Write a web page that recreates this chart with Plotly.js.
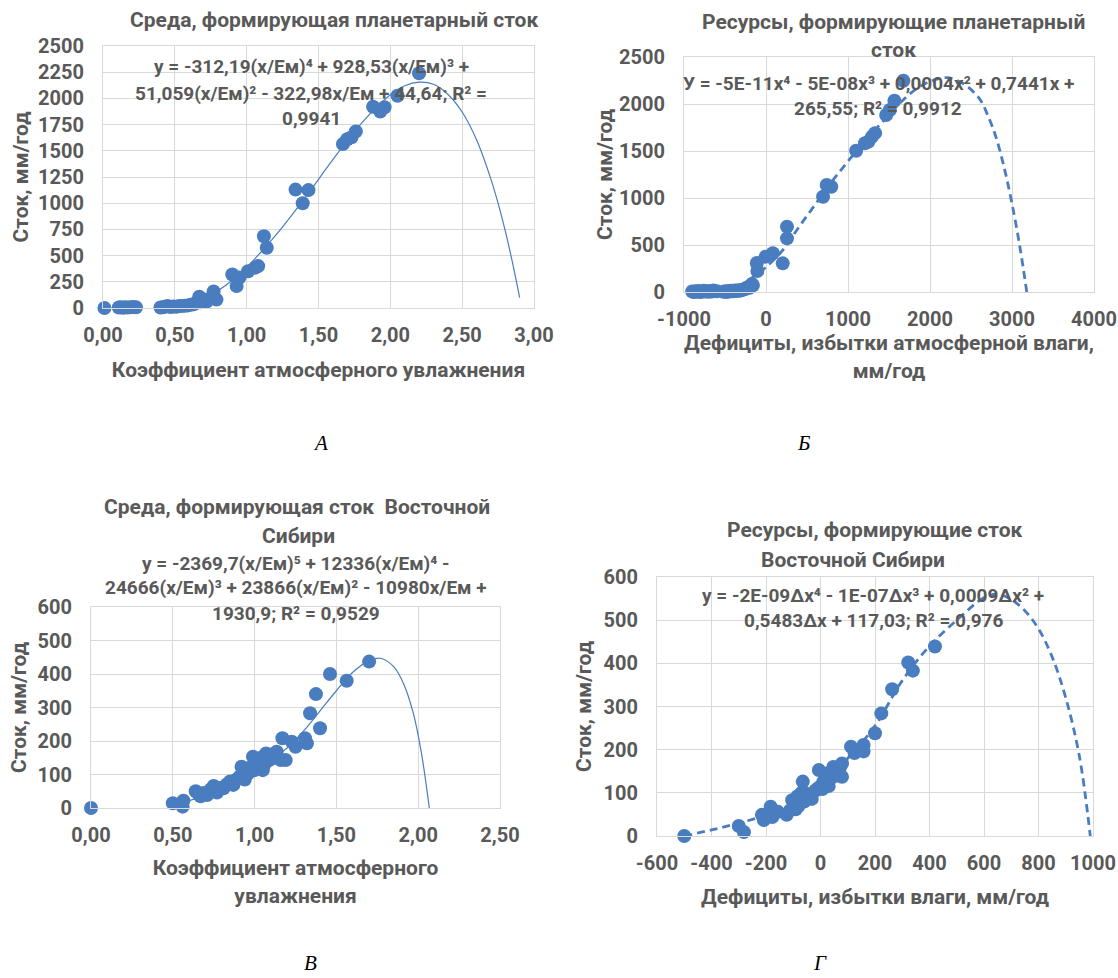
<!DOCTYPE html>
<html><head><meta charset="utf-8">
<script src="https://cdn.plot.ly/plotly-3.0.1.min.js"></script>
<style>html,body{margin:0;padding:0;background:#fff}</style>
</head><body><div id="chart" style="width:1118px;height:978px"></div>
<script>
// ---- Panel A: Среда, формирующая планетарный сток ----
const A_x = [0.01,0.11,0.12,0.14,0.15,0.17,0.19,0.21,0.23,0.40,0.42,0.43,0.45,0.47,0.49,0.51,0.53,0.55,0.57,0.59,0.61,0.63,0.65,0.67,0.68,0.70,0.72,0.74,0.76,0.77,0.79,0.90,0.93,0.95,1.01,1.06,1.08,1.12,1.14,1.34,1.39,1.43,1.67,1.70,1.73,1.76,1.88,1.93,1.96,2.05,2.20];
const A_y = [0,5,8,3,6,4,7,10,6,5,8,12,20,10,15,12,18,20,22,25,30,35,50,108,55,80,60,85,95,158,80,320,210,290,350,385,400,685,575,1130,1000,1125,1565,1610,1630,1685,1920,1875,1915,2025,2240];
const A_trendX = [0.5,0.6,0.7,0.8,0.9,1.0,1.2,1.4,1.6,1.8,2.0,2.1,2.2,2.3,2.4,2.5,2.6,2.7,2.75,2.8,2.85,2.9];
const A_trendY = [0,30,85,165,265,390,690,1040,1415,1765,2035,2120,2155,2135,2040,1870,1605,1230,1000,735,435,100];
const A_xticks = [0,0.5,1,1.5,2,2.5,3];
const A_xlabels = ['0,00','0,50','1,00','1,50','2,00','2,50','3,00'];
const A_yticks = [0,250,500,750,1000,1250,1500,1750,2000,2250,2500];

// ---- Panel Б: Ресурсы, формирующие планетарный сток ----
const B_x = [-900,-880,-860,-840,-820,-800,-780,-760,-740,-720,-700,-680,-660,-640,-600,-520,-500,-480,-460,-440,-420,-400,-380,-360,-340,-320,-300,-280,-260,-240,-220,-200,-190,-180,-170,-160,-112,-105,-4,83,204,256,256,696,740,796,1099,1207,1250,1293,1330,1466,1510,1566,1675];
const B_y = [5,0,8,3,10,0,6,12,4,9,2,10,5,15,8,3,8,0,10,5,12,8,15,10,18,12,20,25,30,40,50,45,60,75,85,70,308,224,376,412,305,695,571,1014,1138,1120,1503,1582,1600,1653,1690,1883,1936,2035,2248];
const B_trendX = [-490,-400,-300,-200,-100,0,200,400,600,800,1000,1200,1400,1600,1800,2000,2200,2400,2600,2700,2800,2900,3000,3100,3180];
const B_trendY = [0,35,80,135,195,265,440,690,930,1170,1390,1600,1790,1980,2140,2240,2280,2220,2060,1890,1660,1340,940,460,0];
const B_xticks = [-1000,0,1000,2000,3000,4000];
const B_xlabels = ['-1000','0','1000','2000','3000','4000'];
const B_yticks = [0,500,1000,1500,2000,2500];

// ---- Panel В: Среда, формирующая сток Восточной Сибири ----
const V_x = [0,0.50,0.56,0.565,0.64,0.66,0.67,0.69,0.71,0.73,0.75,0.77,0.79,0.81,0.83,0.85,0.87,0.89,0.91,0.92,0.93,0.94,0.96,0.97,0.99,1.00,1.01,1.02,1.03,1.04,1.05,1.06,1.07,1.08,1.09,1.10,1.12,1.135,1.16,1.17,1.19,1.227,1.25,1.308,1.32,1.339,1.375,1.40,1.461,1.563,1.70];
const V_y = [0,14,4,22,50,40,35,45,39,55,66,46,60,59,70,79,69,85,94,123,100,85,103,120,153,113,140,125,133,150,113,130,163,155,143,160,150,168,143,208,143,198,183,208,193,283,340,238,400,380,437];
const V_trendX = [0.5,0.6,0.7,0.8,0.9,1.0,1.1,1.2,1.3,1.4,1.5,1.6,1.7,1.77,1.85,1.91,1.97,2.02,2.068];
const V_trendY = [18,22,42,68,92,115,142,180,230,290,350,405,440,447,422,372,283,163,0];
const V_xticks = [0,0.5,1,1.5,2,2.5];
const V_xlabels = ['0,00','0,50','1,00','1,50','2,00','2,50'];
const V_yticks = [0,100,200,300,400,500,600];

// ---- Panel Г: Ресурсы, формирующие сток Восточной Сибири ----
const G_x = [-500,-300,-281,-215,-208,-183,-177,-156,-124,-110,-104,-91,-84,-80,-70,-65,-60,-52,-45,-40,-32,-20,-10,-6,0,7,10,20,21,30,40,47,50,60,70,79,79,112,125,158,158,200,223,263,322,339,420];
const G_y = [0,23,9,49,37,68,44,56,49,60,83,62,92,70,100,126,80,98,90,95,86,105,110,153,115,109,125,130,145,116,135,160,150,140,155,168,137,207,192,211,196,238,284,340,402,383,439];
const G_trendX = [-500,-400,-300,-200,-100,0,100,200,300,400,500,600,650,700,750,800,850,900,950,990];
const G_trendY = [0,14,30,48,75,117,180,255,360,440,500,552,560,548,522,480,415,320,185,0];
const G_xticks = [-600,-400,-200,0,200,400,600,800,1000];
const G_xlabels = ['-600','-400','-200','0','200','400','600','800','1000'];
const G_yticks = [0,100,200,300,400,500,600];

// ---- texts ----
const titles = [
  ['Среда, формирующая планетарный сток', 334, 20],
  ['Ресурсы, формирующие планетарный', 893, 22],
  ['сток', 893, 50],
  ['Среда, формирующая сток  Восточной', 297, 507],
  ['Сибири', 298, 536],
  ['Ресурсы, формирующие сток', 875, 530],
  ['Восточной Сибири', 853, 560]
];
const equations = [
  ['y = -312,19(x/Ем)⁴ + 928,53(x/Ем)³ +', 311, 67],
  ['51,059(x/Ем)² - 322,98x/Ем + 44,64; R² =', 311, 93],
  ['0,9941', 311, 118],
  ['У = -5Е-11x⁴ - 5Е-08x³ + 0,0004x² + 0,7441x +', 878, 83],
  ['265,55; R² = 0,9912', 878, 108],
  ['y = -2369,7(x/Ем)⁵ + 12336(x/Ем)⁴ -', 296, 563],
  ['24666(x/Ем)³ + 23866(x/Ем)² - 10980x/Ем +', 296, 587],
  ['1930,9; R² = 0,9529', 296, 613],
  ['y = -2E-09∆x⁴ - 1E-07∆x³ + 0,0009∆x² +', 873, 595],
  ['0,5483∆x + 117,03; R² = 0,976', 873, 620]
];
const letters = [['А', 320, 443], ['Б', 803, 443], ['В', 310, 963], ['Г', 820, 963]];

const W = 1118, H = 978;
const fx = p => p / W, fy = p => 1 - p / H;
const GRAY = '#595959', BLUE = '#497dbf', GRID = '#d9d9d9';
const FAM = 'Roboto, "Liberation Sans", sans-serif';
const tickFont = {family: FAM, size: 20, color: GRAY, weight: 'bold'};
const titleFont = {family: FAM, size: 21, color: GRAY, weight: 'bold'};

function xax(dom, anchor, range, vals, labels, title, standoff) {
  return {domain: dom, anchor: anchor, range: range, tickmode: 'array', tickvals: vals, ticktext: labels,
    showgrid: true, gridcolor: GRID, gridwidth: 1, zeroline: false, showline: true, linecolor: GRID, mirror: true,
    ticks: '', tickfont: tickFont, ticklabelstandoff: 9, fixedrange: true,
    title: {text: title, font: titleFont, standoff: standoff}};
}
function yax(dom, anchor, range, vals, title, standoff) {
  return {domain: dom, anchor: anchor, range: range, tickmode: 'array', tickvals: vals, ticktext: vals.map(String),
    showgrid: true, gridcolor: GRID, gridwidth: 1, zeroline: false, showline: true, linecolor: GRID, mirror: true,
    ticks: '', tickfont: tickFont, ticklabelstandoff: 14, fixedrange: true,
    title: {text: title, font: titleFont, standoff: standoff}};
}

function pts(x, y, xa, ya) {
  return {type: 'scatter', mode: 'markers', x: x, y: y, xaxis: xa, yaxis: ya, cliponaxis: false,
    marker: {color: BLUE, size: 14}, hoverinfo: 'skip'};
}
function trend(x, y, xa, ya, dashed) {
  return {type: 'scatter', mode: 'lines', x: x, y: y, xaxis: xa, yaxis: ya,
    line: {color: BLUE, width: dashed ? 2.8 : 1.2, dash: dashed ? '8px,5px' : 'solid', shape: 'spline', smoothing: 1},
    hoverinfo: 'skip'};
}

const data = [
  pts(A_x, A_y, 'x', 'y'), trend(A_trendX, A_trendY, 'x', 'y', false),
  pts(B_x, B_y, 'x2', 'y2'), trend(B_trendX, B_trendY, 'x2', 'y2', true),
  pts(V_x, V_y, 'x3', 'y3'), trend(V_trendX, V_trendY, 'x3', 'y3', false),
  pts(G_x, G_y, 'x4', 'y4'), trend(G_trendX, G_trendY, 'x4', 'y4', true)
];

const annotations = [];
titles.forEach(t => annotations.push({text: t[0], x: fx(t[1]), y: fy(t[2]), xref: 'paper', yref: 'paper',
  xanchor: 'center', yanchor: 'middle', showarrow: false, font: {family: FAM, size: 21, color: GRAY, weight: 'bold'}}));
equations.forEach(t => annotations.push({text: t[0], x: fx(t[1]), y: fy(t[2]), xref: 'paper', yref: 'paper',
  xanchor: 'center', yanchor: 'middle', showarrow: false, font: {family: FAM, size: 19, color: GRAY, weight: 'bold'}}));
letters.forEach(t => annotations.push({text: '<i>' + t[0] + '</i>', x: fx(t[1]), y: fy(t[2]), xref: 'paper', yref: 'paper',
  xanchor: 'center', yanchor: 'middle', showarrow: false, font: {family: '"Liberation Serif", serif', size: 21, color: '#000'}}));

const layout = {
  width: W, height: H, margin: {l: 0, r: 0, t: 0, b: 0},
  paper_bgcolor: '#fff', plot_bgcolor: '#fff', showlegend: false, separators: ', ',
  xaxis: xax([fx(103), fx(534)], 'y', [0, 3], A_xticks, A_xlabels, 'Коэффициент атмосферного увлажнения', 16),
  yaxis: yax([fy(308), fy(46)], 'x', [0, 2500], A_yticks, 'Сток, мм/год', 3),
  xaxis2: xax([fx(684), fx(1094)], 'y2', [-1000, 4000], B_xticks, B_xlabels, 'Дефициты, избытки атмосферной влаги,<br>мм/год', 5),
  yaxis2: yax([fy(292), fy(57)], 'x2', [0, 2500], B_yticks, 'Сток, мм/год', 0),
  xaxis3: xax([fx(91), fx(500)], 'y3', [0, 2.5], V_xticks, V_xlabels, 'Коэффициент атмосферного<br>увлажнения', 14),
  yaxis3: yax([fy(808), fy(607)], 'x3', [0, 600], V_yticks, 'Сток, мм/год', 5),
  xaxis4: xax([fx(657), fx(1093)], 'y4', [-600, 1000], G_xticks, G_xlabels, 'Дефициты, избытки влаги, мм/год', 15),
  yaxis4: yax([fy(836), fy(577)], 'x4', [0, 600], G_yticks, 'Сток, мм/год', 6),
  annotations: annotations
};

Plotly.newPlot('chart', data, layout, {staticPlot: true, displayModeBar: false});
</script></body></html>
